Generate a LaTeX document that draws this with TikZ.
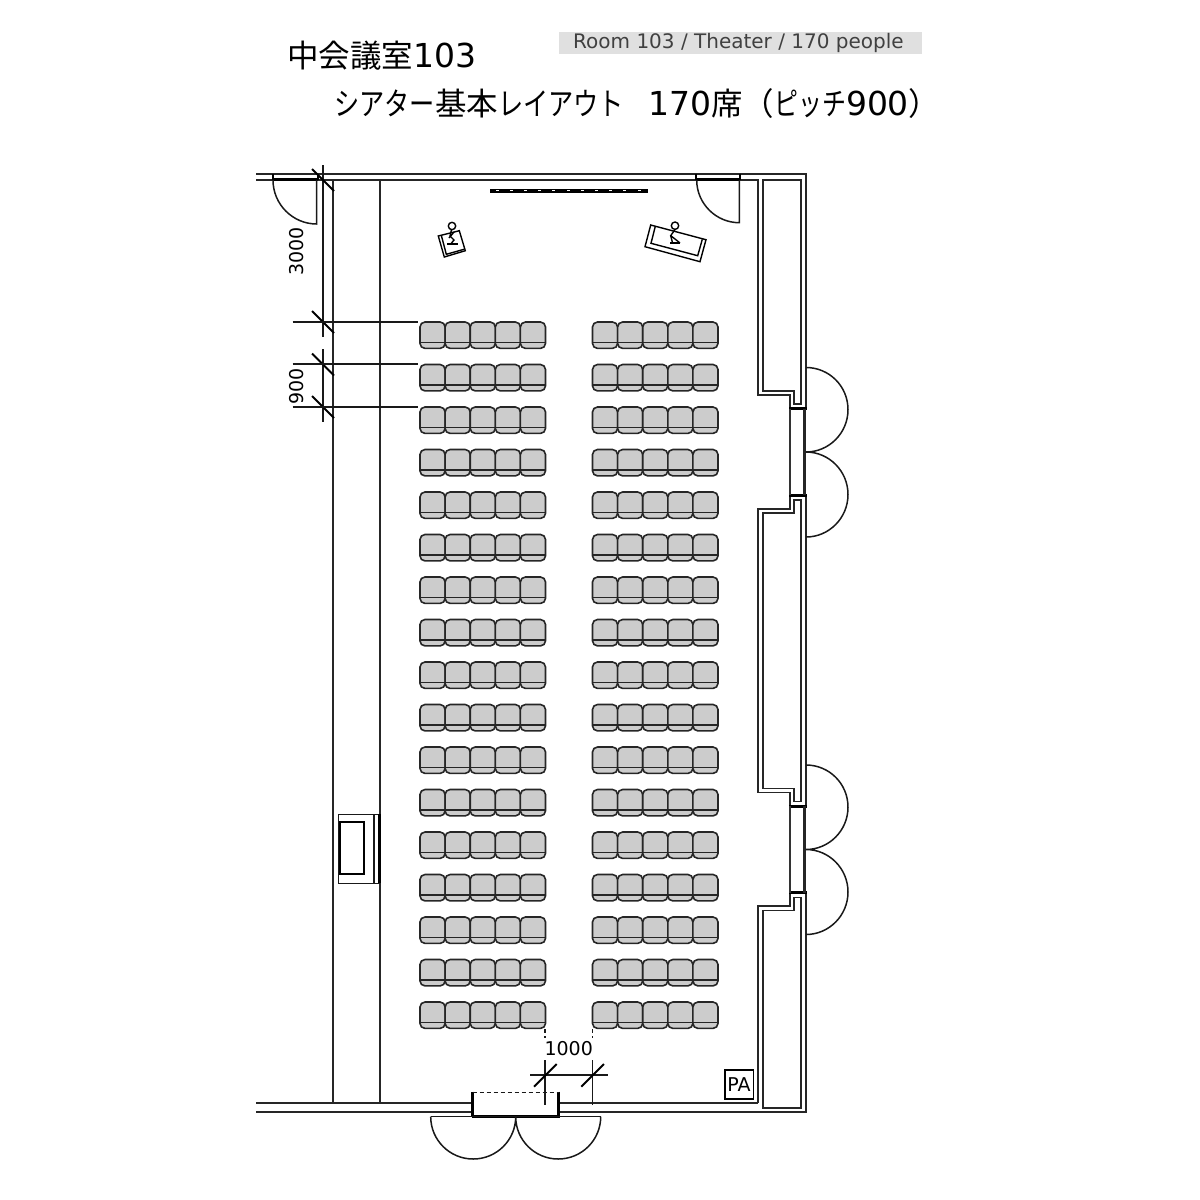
\documentclass[tikz,border=0pt]{standalone}
\usepackage{graphicx}
\usepackage{fontspec}
\setmainfont{DejaVu Sans}
\newfontfamily\cjk{Noto Sans CJK JP}
\newcommand{\dg}[1]{{\fontsize{33}{33}\selectfont\rmfamily #1}}
\newcommand{\kn}[2][0.8]{\scalebox{#1}[1]{#2}}
\tikzset{
  wall/.style={line width=1.8pt,draw=black!85},
  thin/.style={line width=1.5pt,draw=black!90},
  thick/.style={line width=3pt,draw=black},
  dim/.style={line width=1.6pt,draw=black!90},
  tick/.style={line width=1.9pt,draw=black},
  leaf/.style={line width=1.5pt,draw=black!90},
  seat/.style={line width=1.6pt,draw=black!85,fill=black!20,rounded corners=5pt},
  dimtext/.style={font=\fontsize{19}{20}\selectfont,inner sep=0pt},
  ttl/.style={font=\fontsize{31.5}{32}\selectfont\cjk,inner sep=0pt,anchor=base west},
}
\newcommand{\seatat}[2]{%
  \draw[seat] (#1,#2) rectangle (#1+25.1,#2+26.4);
  \draw[line width=1.5pt,draw=black!85] (#1,#2+20.5) -- (#1+25.1,#2+20.5);
}
\begin{document}
\begin{tikzpicture}[x=1pt,y=-1pt]
\useasboundingbox (0,0) rectangle (1200,1200);
% titles
\fill[black!12] (559,31.5) rectangle (922,54);
\node[font=\fontsize{20}{20}\selectfont,text=black!75,inner sep=0pt,anchor=base west] (sub) at (573,48) {Room 103 / Theater / 170 people};
\node[ttl] (t1) at (287,67) {中会議室\dg{103}};
\node[ttl] (t2) at (334,115) {\kn{シアター}基本\kn{レイアウト}};
\node[ttl] (t3) at (648,115) {\dg{170}席（\kn[0.76]{ピッチ}\dg{900}）};
% seats
\foreach \r in {0,...,16}{
  \pgfmathsetmacro{\yy}{322+42.5*\r}
  \foreach \c in {0,...,4}{
    \pgfmathsetmacro{\xa}{420+25.1*\c}
    \pgfmathsetmacro{\xb}{592.5+25.1*\c}
    \seatat{\xa}{\yy}
    \seatat{\xb}{\yy}
  }
}
% walls
\draw[wall] (256,174) -- (806,174) -- (806,408.5);
\draw[wall] (256,180) -- (758,180) -- (758,395) -- (790,395) -- (790,408.5);
\draw[wall] (332.7,180) -- (332.7,1103);
\draw[wall] (379.7,180) -- (379.7,1103);
\draw[wall] (256,1103.3) -- (472.7,1103.3);
\draw[wall] (256,1112.3) -- (472.7,1112.3);
\draw[wall] (558.7,1103.3) -- (758,1103.3);
\draw[wall] (558.7,1112.3) -- (806,1112.3) -- (806,892);
% pilaster loops
\draw[wall] (762.7,180) -- (800.7,180) -- (800.7,404) -- (794.3,404) -- (794.3,391) -- (762.7,391) -- cycle;
\draw[wall] (800.7,500) -- (794.3,500) -- (794.3,513) -- (762.7,513) -- (762.7,788.5) -- (794.3,788.5) -- (794.3,801.5) -- (800.7,801.5) -- cycle;
\draw[wall] (800.7,897.5) -- (794.3,897.5) -- (794.3,910.5) -- (762.7,910.5) -- (762.7,1108.3) -- (800.7,1108.3) -- cycle;
\draw[wall] (790,495.5) -- (790,508.7) -- (758,508.7) -- (758,792.5) -- (790,792.5) -- (790,806);
\draw[wall] (806,495.5) -- (806,806);
\draw[wall] (790,892.5) -- (790,906) -- (758,906) -- (758,1103.3);
% right doors
\foreach \d in {0,397.5}{
  \begin{scope}[yshift=-\d pt]
  \draw[thick] (789,408.7) -- (806.5,408.7);
  \draw[thick] (789,495) -- (806.5,495);
  \draw[line width=1.5pt,black!80] (790,408.7) -- (790,495);
  \draw[line width=3pt,black!85] (804.5,408.7) -- (804.5,495);
  \draw[leaf] (806,367.5) .. controls (829,367.5) and (848,386) .. (848,409.7) .. controls (848,433) and (829,452) .. (806,452) .. controls (829,452) and (848,471) .. (848,494.5) .. controls (848,518) and (829,537) .. (806,537);
  \end{scope}
}
% bottom door
\draw[thick] (472.7,1091.5) -- (472.7,1116.5);
\draw[thick] (558.7,1091.5) -- (558.7,1116.5);
\draw[thick] (471.5,1116) -- (560,1116);
\draw[thin,dash pattern=on 4pt off 3pt] (472.7,1092.3) -- (558.7,1092.3);
\draw[leaf] (430.7,1116.7) -- (600.7,1116.7);
\draw[leaf] (430.7,1116.7) .. controls (430.7,1140) and (449.7,1159) .. (473.2,1159) .. controls (496.7,1159) and (515.7,1140) .. (515.7,1116.7) .. controls (515.7,1140) and (534.7,1159) .. (558.2,1159) .. controls (581.7,1159) and (600.7,1140) .. (600.7,1116.7);
% top doors
\draw[line width=3.4pt,black] (273,179.5) -- (318,179.5);
\draw[line width=2.4pt,black] (273,173.5) -- (273,180);
\draw[line width=2.4pt,black] (318,173.5) -- (318,180);
\draw[leaf] (273,180) .. controls (273,204.3) and (292.7,224) .. (316.7,224) -- (316.7,180);
\draw[line width=3.4pt,black] (696,179.5) -- (740,179.5);
\draw[line width=2.4pt,black] (696,173.5) -- (696,180);
\draw[line width=2.4pt,black] (740,173.5) -- (740,180);
\draw[leaf] (696.7,180) .. controls (696.7,203.5) and (716,222.7) .. (739.3,222.7) -- (739.3,180);
% screen
\draw[line width=3.6pt,black] (490,190.7) -- (648,190.7);
\foreach \k in {0,...,10}{\fill[white] (495.5+14.2*\k,190) rectangle ++(3,1.2);}
% projector
\draw[thin] (338.3,814.3) rectangle (379.3,883.3);
\draw[line width=2pt,black] (339.5,822) rectangle (364.3,873.7);
\draw[thin] (374,814.3) -- (374,883.3);
\draw[line width=3pt,black] (379,814.3) -- (379,883.3);
% left podium
\draw[line width=1.4pt] (438.3,236) -- (459.3,230.7) -- (465.3,250.7) -- (444.3,257) -- cycle;
\draw[line width=1.4pt] (441.3,235.3) -- (446.3,254.3) -- (464,249.3);
\draw[line width=1.4pt] (452,226) circle (3.7pt);
\draw[line width=1.4pt] (451.5,229.7) -- (450,236) -- (454,240) -- (451,243.7);
\draw[line width=1.6pt] (447,243.7) -- (458,243.7);
\draw[line width=1.4pt] (454,232) -- (449,238);
% right podium
\draw[line width=1.4pt] (650.7,225) -- (706,239.7) -- (700,261.7) -- (645,246.7) -- cycle;
\draw[line width=1.4pt] (655.3,226.3) -- (651,243.3) -- (697.7,255.7) -- (702.3,239.3);
\draw[line width=1.4pt] (675,225.7) circle (3.7pt);
\draw[line width=1.4pt] (675,229.5) -- (670.7,235.7) -- (675,239) -- (680,243);
\draw[line width=1.4pt] (670.7,235.7) -- (672.5,242.7);
\draw[line width=1.6pt] (670,243) -- (680,243);
% dimensions left
\draw[dim] (323,165) -- (323,337);
\draw[dim] (323,349) -- (323,421.7);
\foreach \yy in {180,322,364.5,407}{
  \draw[tick] (312,\yy-11) -- (334,\yy+11);
}
\foreach \yy in {322,364.2,407}{
  \draw[dim] (292.7,\yy) -- (417.7,\yy);
}
\node[dimtext,rotate=90] (d3000) at (296.5,251.7) {3000};
\node[dimtext,rotate=90] (d900) at (296.5,386.5) {900};
% dimensions bottom
\draw[dim,dash pattern=on 4pt off 3pt] (545,1029) -- (545,1038);
\draw[dim,dash pattern=on 4pt off 3pt] (592.3,1029) -- (592.3,1038);
\draw[dim] (545,1060) -- (545,1105);
\draw[dim] (592.3,1060) -- (592.3,1105);
\draw[dim] (530,1075) -- (607.7,1075);
\draw[tick] (534,1086.7) -- (556.7,1064);
\draw[tick] (581.3,1086.7) -- (604,1064);
\node[dimtext] (d1000) at (568.7,1049) {1000};
% PA
\node[draw,line width=1.5pt,minimum width=28.3pt,minimum height=29pt,inner sep=0pt,font=\fontsize{19}{20}\selectfont] (pa) at (739.1,1084.5) {PA};
\end{tikzpicture}
\end{document}
